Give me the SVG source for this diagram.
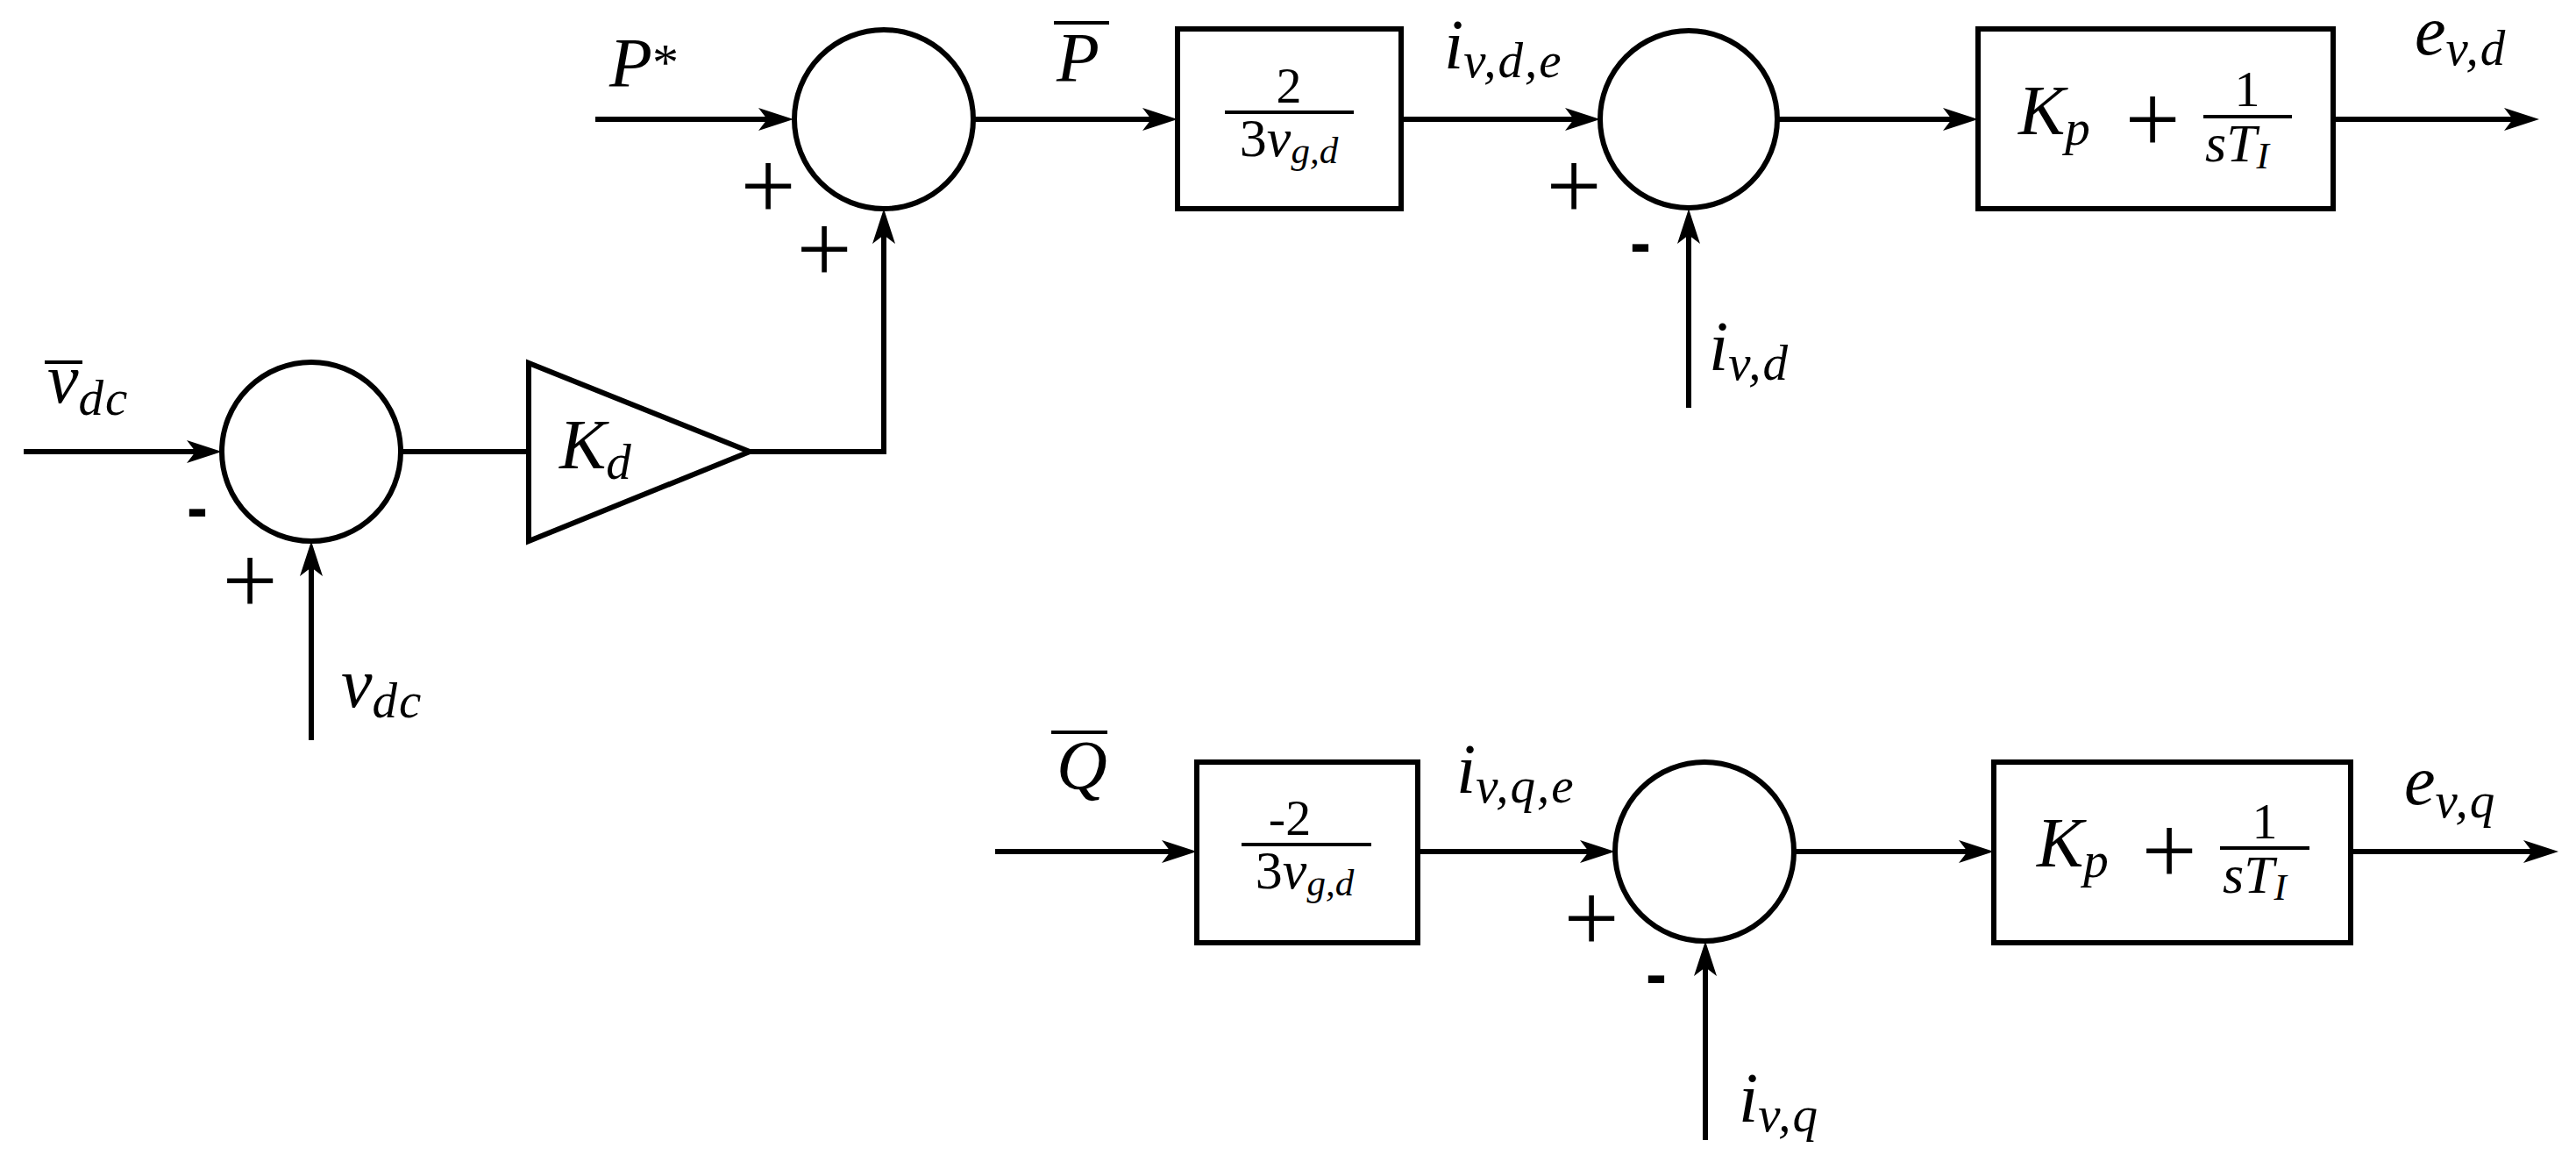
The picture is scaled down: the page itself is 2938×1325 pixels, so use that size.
<svg xmlns="http://www.w3.org/2000/svg" width="2938" height="1325" viewBox="0 0 2938 1325">
<style>
.sh{fill:none;stroke:#000;stroke-width:6}
.ln{fill:none;stroke:#000;stroke-width:6}
.bar{stroke:#000;stroke-width:4}
text{font-family:'Liberation Serif','DejaVu Serif',serif;fill:#000}
.m{font-style:italic;font-size:80px}
.s{font-style:italic;font-size:57px;letter-spacing:2px}
.r{font-style:normal}
.f{font-style:italic;font-size:62px}
.fs{font-style:italic;font-size:43px}
.pl{font-size:112px}
.mi{font-family:'Liberation Sans','DejaVu Sans',sans-serif;font-weight:bold;font-size:72px}
</style>
<defs>
<marker id="ah" markerUnits="userSpaceOnUse" markerWidth="60" markerHeight="40" refX="0" refY="0" orient="auto" overflow="visible">
<path d="M28,0 L-12,-13 L-2,0 L-12,13 Z" fill="#000"/>
</marker>
</defs>
<rect width="2938" height="1325" fill="#fff"/>

<g id="connectors">
<path class="ln" d="M679,136 L877,136" marker-end="url(#ah)"/>
<path class="ln" d="M27,515 L225,515" marker-end="url(#ah)"/>
<path class="ln" d="M355,844 L355,645" marker-end="url(#ah)"/>
<path class="ln" d="M457,515 L603,515"/>
<path class="ln" d="M855,515 L1008,515 L1008,266" marker-end="url(#ah)"/>
<path class="ln" d="M1110,136 L1315,136" marker-end="url(#ah)"/>
<path class="ln" d="M1598,136 L1797,136" marker-end="url(#ah)"/>
<path class="ln" d="M1926,465 L1926,266" marker-end="url(#ah)"/>
<path class="ln" d="M2027,136 L2228,136" marker-end="url(#ah)"/>
<path class="ln" d="M2661,136 L2868,136" marker-end="url(#ah)"/>
<path class="ln" d="M1135,971 L1337,971" marker-end="url(#ah)"/>
<path class="ln" d="M1617,971 L1814,971" marker-end="url(#ah)"/>
<path class="ln" d="M1945,1300 L1945,1101" marker-end="url(#ah)"/>
<path class="ln" d="M2046,971 L2246,971" marker-end="url(#ah)"/>
<path class="ln" d="M2681,971 L2890,971" marker-end="url(#ah)"/>
</g>

<g id="sum1">
<circle class="sh" cx="1008" cy="136" r="102"/>
<text class="pl" x="876" y="250" text-anchor="middle">+</text>
<text class="pl" x="940" y="322" text-anchor="middle">+</text>
</g>

<g id="sum2">
<circle class="sh" cx="355" cy="515" r="102"/>
<text class="mi" x="225" y="603" text-anchor="middle">-</text>
<text class="pl" x="285" y="700" text-anchor="middle">+</text>
</g>

<g id="gain-kd">
<polygon class="sh" points="603,414 603,617 855,515"/>
<text class="m" x="638" y="534">K<tspan class="s" dy="12">d</tspan></text>
</g>

<g id="block1">
<rect class="sh" x="1343" y="33" width="255" height="205"/>
<text class="r" x="1470" y="117" font-size="58" text-anchor="middle">2</text>
<line class="bar" x1="1397" y1="128" x2="1544" y2="128"/>
<text class="f" x="1470" y="178" text-anchor="middle"><tspan class="r">3</tspan>v<tspan class="fs" dy="8">g,d</tspan></text>
</g>

<g id="sum3">
<circle class="sh" cx="1926" cy="136" r="101"/>
<text class="pl" x="1795" y="250" text-anchor="middle">+</text>
<text class="mi" x="1871" y="301" text-anchor="middle">-</text>
</g>

<g id="block2">
<rect class="sh" x="2256" y="33" width="405" height="205"/>
<text class="m" x="2302" y="153">K<tspan class="s" dy="12">p</tspan></text>
<text class="pl" x="2455" y="174" text-anchor="middle">+</text>
<text class="r" x="2563" y="121" font-size="58" text-anchor="middle">1</text>
<line class="bar" x1="2513" y1="133" x2="2614" y2="133"/>
<text class="f" x="2515" y="184">sT<tspan class="fs" dy="8">I</tspan></text>
</g>

<g id="block3">
<rect class="sh" x="1365" y="869" width="252" height="206"/>
<text class="r" x="1471" y="952" font-size="58" text-anchor="middle">-2</text>
<line class="bar" x1="1416" y1="963" x2="1564" y2="963"/>
<text class="f" x="1488" y="1013" text-anchor="middle"><tspan class="r">3</tspan>v<tspan class="fs" dy="8">g,d</tspan></text>
</g>

<g id="sum4">
<circle class="sh" cx="1944" cy="971" r="102"/>
<text class="pl" x="1815" y="1085" text-anchor="middle">+</text>
<text class="mi" x="1889" y="1135" text-anchor="middle">-</text>
</g>

<g id="block4">
<rect class="sh" x="2274" y="869" width="407" height="206"/>
<text class="m" x="2323" y="988">K<tspan class="s" dy="12">p</tspan></text>
<text class="pl" x="2474" y="1008" text-anchor="middle">+</text>
<text class="r" x="2583" y="956" font-size="58" text-anchor="middle">1</text>
<line class="bar" x1="2532" y1="967" x2="2634" y2="967"/>
<text class="f" x="2535" y="1018">sT<tspan class="fs" dy="8">I</tspan></text>
</g>

<g id="labels">
<text class="m" x="695" y="99">P<tspan class="r" font-size="60" dy="-8">*</tspan></text>
<text class="m" x="1205" y="93">P</text>
<line class="bar" x1="1202" y1="26" x2="1265" y2="26"/>
<text class="m" x="54" y="459">v<tspan class="s" dy="14">dc</tspan></text>
<line class="bar" x1="51" y1="413" x2="94" y2="413"/>
<text class="m" x="389" y="806">v<tspan class="s" dy="12">dc</tspan></text>
<text class="m" x="1647" y="78">i<tspan class="s" dy="10">v,d,e</tspan></text>
<text class="m" x="1949" y="422">i<tspan class="s" dy="11">v,d</tspan></text>
<text class="m" x="2754" y="62">e<tspan class="s" dy="12">v,d</tspan></text>
<text class="m" x="1205" y="900">Q</text>
<line class="bar" x1="1199" y1="835" x2="1263" y2="835"/>
<text class="m" x="1661" y="904">i<tspan class="s" dy="11">v,q,e</tspan></text>
<text class="m" x="1983" y="1279">i<tspan class="s" dy="11">v,q</tspan></text>
<text class="m" x="2742" y="917">e<tspan class="s" dy="15">v,q</tspan></text>
</g>
</svg>
